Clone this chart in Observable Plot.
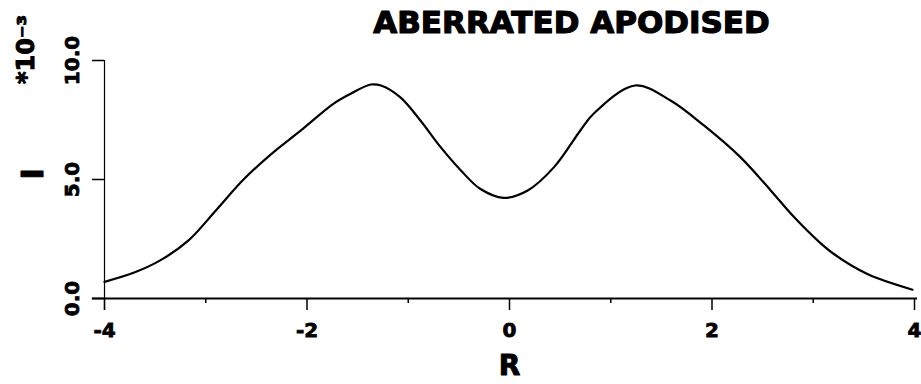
<!DOCTYPE html>
<html>
<head>
<meta charset="utf-8">
<script src="https://cdn.jsdelivr.net/npm/d3@7"></script>
<script src="https://cdn.jsdelivr.net/npm/@observablehq/plot@0.6"></script>
<style>
  html, body { margin: 0; padding: 0; background: white; }
  svg text { paint-order: stroke; }
  g[aria-label="x-axis tick label"] text, g[aria-label="y-axis tick label"] text { stroke: black; stroke-width: 0.8px; }
</style>
</head>
<body>
<div id="chart"></div>
<script>
const R = [-4, -3.7, -3.45, -3.17, -2.9, -2.62, -2.33, -2.06, -1.74, -1.57, -1.37, -1.27, -1.08, -0.88, -0.68, -0.48, -0.29, -0.06, 0.18, 0.44, 0.7, 0.83, 1.24, 1.59, 1.92, 2.28, 2.58, 2.81, 3.06, 3.2, 3.53, 3.98];
const I = [0.7, 1.1, 1.6, 2.44, 3.7, 5.03, 6.15, 7.06, 8.18, 8.6, 8.99, 8.95, 8.46, 7.48, 6.36, 5.38, 4.61, 4.23, 4.54, 5.52, 7.06, 7.76, 8.95, 8.32, 7.27, 5.94, 4.54, 3.42, 2.37, 1.88, 1.04, 0.37];
const xTicks = [-4, -2, 0, 2, 4];
const xMinorTicks = [-3, -1, 1, 3];
const yTicks = [0, 5, 10];
const title = "ABERRATED APODISED";
const xLabel = "R";
const yLabel = "I";
const yScaleLabel = "*10\u207B\u00B3";

const data = R.map((r, k) => ({r, i: I[k]}));
const fmtX = d => d < 0 ? "-" + Math.abs(d) : String(d);

const chart = Plot.plot({
  width: 921,
  height: 384,
  marginLeft: 104,
  marginRight: 7,
  marginTop: 60,
  marginBottom: 86,
  x: {domain: [-4, 4]},
  y: {domain: [0, 10]},
  style: {fontFamily: "DejaVu Sans", fontWeight: "bold", background: "white", color: "black"},
  marks: [
    Plot.axisX({ticks: xTicks, tickSize: 12, tickPadding: 12, fontSize: 20, tickFormat: fmtX, label: null, strokeWidth: 1.5, strokeOpacity: 1}),
    Plot.axisX({ticks: xMinorTicks, tickSize: 5, tickFormat: () => "", label: null, strokeWidth: 1.5, strokeOpacity: 1}),
    Plot.axisY({ticks: yTicks, tickSize: 12, tickPadding: 14, tickRotate: -90, fontSize: 20, tickFormat: d3.format(".1f"), label: null, strokeWidth: 1.5, strokeOpacity: 1}),
    Plot.ruleY([0], {x1: -4.12, x2: 4.03, strokeWidth: 2}),
    Plot.ruleX([-4], {y1: -0.5, y2: 10, strokeWidth: 1.2}),
    Plot.line(data, {x: "r", y: "i", curve: "catmull-rom", strokeWidth: 2.2, stroke: "black"}),
    Plot.text([title], {frameAnchor: "top", dx: 62, dy: -37, fontSize: 31, fontWeight: "bold", stroke: "black", strokeWidth: 1.2, fill: "black", lineAnchor: "middle"}),
    Plot.text([xLabel], {frameAnchor: "bottom", dy: 68, fontSize: 28, fontWeight: "bold", stroke: "black", strokeWidth: 1, fill: "black", lineAnchor: "middle"}),
    Plot.text([yLabel], {frameAnchor: "left", dx: -71, rotate: -90, fontSize: 30, fontWeight: "bold", stroke: "black", strokeWidth: 1, fill: "black", lineAnchor: "middle"}),
    Plot.text([yScaleLabel], {frameAnchor: "top-left", dx: -78, dy: -11, rotate: -90, textAnchor: "middle", fontSize: 24, fontWeight: "bold", stroke: "black", strokeWidth: 1, fill: "black", lineAnchor: "middle"})
  ]
});
document.getElementById("chart").appendChild(chart);
</script>
</body>
</html>
